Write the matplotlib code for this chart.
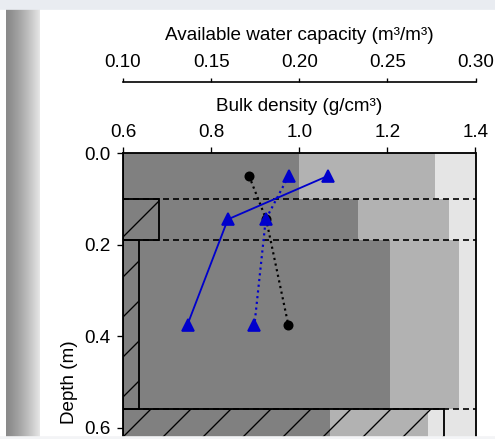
import numpy as np
import matplotlib
matplotlib.use("Agg")
import matplotlib.pyplot as plt

plt.rcParams['font.family'] = ['Liberation Sans', 'DejaVu Sans']
plt.rcParams['font.size'] = 11.3
plt.rcParams['hatch.linewidth'] = 0.8

# soil layers (depth, m)
layer_top = [0.00, 0.10, 0.19, 0.56]
layer_bottom = [0.10, 0.19, 0.56, 0.80]

# shaded bands per layer, right edge on the bulk density scale
dark_edge = [1.000, 1.133, 1.206, 1.070]
mid_edge = [1.308, 1.340, 1.363, 1.292]

# hatched boxes per layer, right edge on the bulk density scale
hatch_edge = [0.600, 0.682, 0.637, 1.329]

# measured profiles
depth = [0.05, 0.145, 0.375]
bulk_density = [0.886, 0.925, 0.975]
awc_a = [0.2163, 0.1595, 0.1366]
awc_b = [0.194, 0.181, 0.1746]

W, H, DPI = 495, 439, 120
fig = plt.figure(figsize=(W / DPI, H / DPI), dpi=DPI)

# window frame around the plot
fig.patches.append(plt.Rectangle((0, 1 - 9 / H), 1, 9 / H, transform=fig.transFigure,
                                 color='#e9ecf1', zorder=0))
fig.add_artist(plt.Rectangle((0, 0), 1, 2 / H, transform=fig.transFigure,
                             color='#f3f4f6', zorder=10))
strip = fig.add_axes([6 / W, 2 / H, 34 / W, (H - 11) / H])
grad = np.linspace(0, 1, 64)
shade = 0.54 + 0.36 * grad ** 1.3
strip.imshow(np.tile(shade, (2, 1)), cmap='gray', vmin=0, vmax=1, aspect='auto',
             extent=(0, 1, 0, 1))
strip.axis('off')

top_px, left_px, right_px = 153, 123, 475.5
ymax = 1.0
h_px = 457.5 * ymax
ax = fig.add_axes([left_px / W, (H - top_px - h_px) / H, (right_px - left_px) / W, h_px / H])
ax.set_facecolor('#e5e5e5')

tops = np.array(layer_top)
thick = np.array(layer_bottom) - tops
ax.barh(tops, np.array(mid_edge) - 0.6, height=thick, left=0.6, align='edge',
        color='#b2b2b2', lw=0, zorder=1)
ax.barh(tops, np.array(dark_edge) - 0.6, height=thick, left=0.6, align='edge',
        color='#808080', lw=0, zorder=2)
for y in layer_top[1:]:
    ax.axhline(y, color='black', lw=1.0, dashes=(3.6, 2.4), zorder=3)
ax.barh(tops, np.array(hatch_edge) - 0.6, height=thick, left=0.6, align='edge',
        fill=False, hatch='/', edgecolor='black', lw=1.1, zorder=4)

ax.plot(bulk_density, depth, color='black', ls=':', lw=1.3, marker='o', ms=5, zorder=6)

ax.set_xlim(0.6, 1.4)
ax.set_ylim(ymax, 0)
ax.set_yticks([0.0, 0.2, 0.4, 0.6])
ax.set_ylabel('Depth (m)', labelpad=4)
ax.spines['bottom'].set_visible(False)
for s in ['top', 'left', 'right']:
    ax.spines[s].set_linewidth(1.1)

ax2 = ax.twiny()
ax2.set_xlim(0.10, 0.30)
ax2.set_xticks([0.10, 0.15, 0.20, 0.25, 0.30])
ax2.set_xticklabels(['0.10', '0.15', '0.20', '0.25', '0.30'])
ax2.plot(awc_a, depth, color='#0000cc', lw=1.1, marker='^', ms=7.5, zorder=6)
ax2.plot(awc_b, depth, color='#0000cc', ls=':', lw=1.3, marker='^', ms=7.5, zorder=6)
for s in ['bottom', 'left', 'right']:
    ax2.spines[s].set_visible(False)
ax2.spines['top'].set_position(('outward', 71.5 * 72 / DPI))
ax2.spines['top'].set_bounds(0.10, 0.30)
ax2.spines['top'].set_linewidth(1.0)
ax2.tick_params(direction='out', length=2.5, width=0.8, pad=4)
ax2.set_xlabel('Available water capacity (m³/m³)', labelpad=8)

# twiny moves the bulk density ticks to the bottom; put them back on top
ax.xaxis.tick_top()
ax.xaxis.set_label_position('top')
ax.set_xticks([0.6, 0.8, 1.0, 1.2, 1.4])
ax.set_xlabel('Bulk density (g/cm³)', labelpad=7.5)
ax.tick_params(direction='out', length=3.8, width=0.8, pad=3.5)

fig.savefig('out.png', dpi=DPI)
